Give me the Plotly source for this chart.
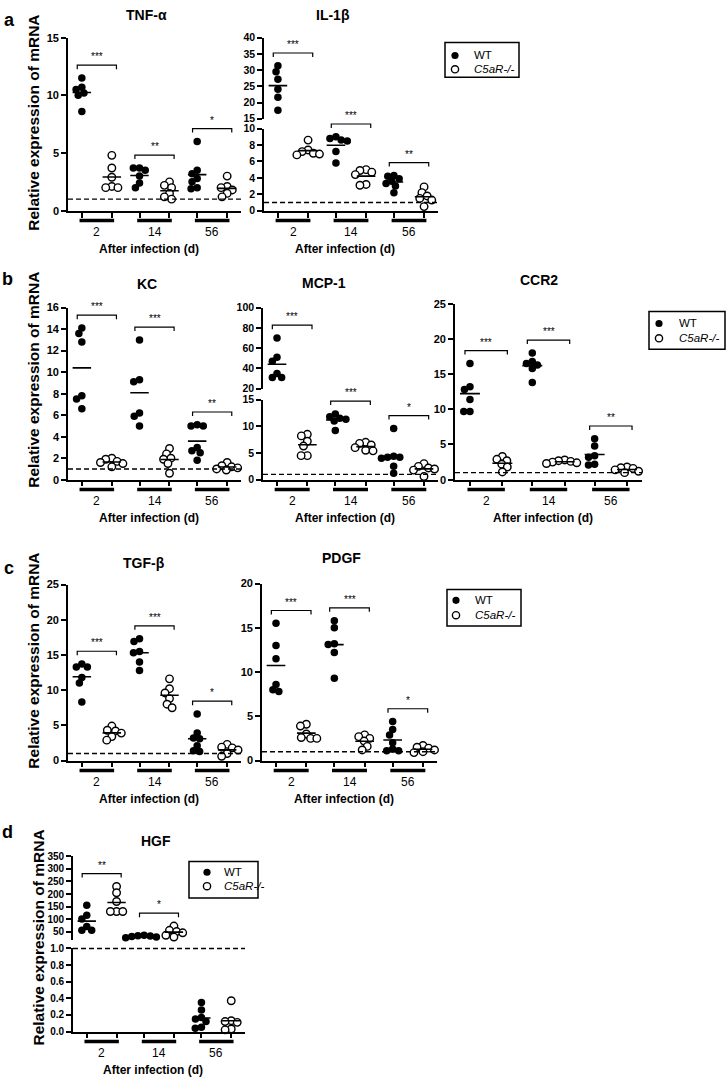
import math
import plotly.graph_objects as go

W, H = 726, 1083
FONT = "Liberation Sans, Arial, Helvetica, sans-serif"

# ---------------- data ----------------
days = ["2", "14", "56"]
genotypes = ["WT", "C5aR-/-"]

tnf_wt = [[11.5, 10.7, 10.5, 10.2, 10.0, 8.6], [3.7, 3.7, 3.5, 3.0, 2.4, 2.0], [6.0, 3.5, 3.2, 2.8, 2.5, 2.0, 1.9]]
tnf_ko = [[4.8, 3.7, 2.9, 2.1, 2.0, 2.0], [2.5, 2.2, 2.0, 1.5, 1.2, 1.0], [3.0, 2.1, 2.0, 1.8, 1.5, 1.2]]
tnf_sig = ["***", "**", "*"]

il1b_wt = [[31.3, 29.5, 27.2, 24.1, 21.6, 17.6], [9.0, 8.8, 8.6, 8.5, 7.2, 5.8], [4.3, 4.2, 3.9, 3.6, 3.3, 3.0, 2.2]]
il1b_ko = [[8.6, 7.4, 7.2, 7.0, 6.9, 6.8], [5.0, 4.9, 4.7, 4.4, 3.2, 3.1], [2.9, 2.2, 1.8, 1.5, 1.3, 0.5]]
il1b_sig = ["***", "***", "**"]

kc_wt = [[14.1, 13.6, 12.8, 7.8, 7.5, 6.6], [13.0, 9.3, 9.1, 6.2, 5.9, 5.0], [5.1, 5.0, 5.0, 3.0, 2.7, 2.5, 1.8]]
kc_ko = [[2.0, 1.9, 1.7, 1.6, 1.5, 1.2], [2.9, 2.4, 2.0, 1.9, 1.5, 0.6], [1.6, 1.3, 1.2, 1.1, 1.0, 0.9]]
kc_sig = ["***", "***", "**"]

mcp1_wt = [[70, 51, 47, 35, 31, 31], [12.3, 11.8, 11.5, 11.3, 11.0, 9.2], [9.6, 4.4, 4.2, 4.2, 4.0, 2.5, 1.2]]
mcp1_ko = [[8.5, 8.2, 7.2, 6.3, 4.5, 4.5], [7.0, 6.8, 6.5, 6.0, 5.5, 5.4], [3.0, 2.5, 2.2, 2.0, 1.8, 0.6]]
mcp1_sig = ["***", "***", "*"]

ccr2_wt = [[16.5, 13.2, 12.8, 11.4, 9.7, 9.7], [18.0, 16.8, 16.5, 16.3, 15.8, 13.8], [5.8, 4.8, 3.4, 3.2, 2.2, 2.1]]
ccr2_ko = [[3.3, 2.9, 2.7, 2.2, 1.8, 1.1], [2.8, 2.7, 2.6, 2.5, 2.4, 2.3], [1.8, 1.7, 1.6, 1.4, 1.2, 1.0]]
ccr2_sig = ["***", "***", "**"]

tgfb_wt = [[13.7, 13.3, 13.3, 11.8, 11.0, 8.3], [17.3, 16.9, 15.5, 15.3, 14.0, 12.8], [6.6, 3.9, 3.2, 3.1, 2.1, 1.4, 1.3]]
tgfb_ko = [[4.9, 4.3, 4.2, 3.9, 3.4, 2.9], [11.6, 10.2, 9.6, 8.8, 8.0, 7.5], [2.3, 1.9, 1.8, 1.5, 1.0, 0.6]]
tgfb_sig = ["***", "***", "*"]

pdgf_wt = [[15.5, 13.0, 11.5, 8.6, 8.0, 7.8], [15.8, 15.0, 13.2, 13.1, 12.2, 9.3], [4.4, 3.5, 2.9, 2.0, 1.3, 1.1, 1.1]]
pdgf_ko = [[4.1, 3.9, 3.0, 2.6, 2.5, 2.5], [2.9, 2.7, 2.5, 2.2, 1.6, 1.2], [1.7, 1.5, 1.4, 1.2, 1.0, 0.9]]
pdgf_sig = ["***", "***", "*"]

hgf_wt = [[155, 115, 100, 70, 55, 55], [35, 33, 32, 30, 28, 25], [0.35, 0.26, 0.17, 0.15, 0.12, 0.05, 0.04]]
hgf_ko = [[230, 205, 170, 130, 130, 130], [72, 55, 50, 45, 35, 28], [0.37, 0.13, 0.12, 0.11, 0.03, 0.02]]
hgf_sig = ["**", "*", ""]

charts = [
    dict(name="TNF-α", wt=tnf_wt, ko=tnf_ko, sig=tnf_sig, panel=0),
    dict(name="IL-1β", wt=il1b_wt, ko=il1b_ko, sig=il1b_sig, panel=0),
    dict(name="KC", wt=kc_wt, ko=kc_ko, sig=kc_sig, panel=1),
    dict(name="MCP-1", wt=mcp1_wt, ko=mcp1_ko, sig=mcp1_sig, panel=1),
    dict(name="CCR2", wt=ccr2_wt, ko=ccr2_ko, sig=ccr2_sig, panel=1),
    dict(name="TGF-β", wt=tgfb_wt, ko=tgfb_ko, sig=tgfb_sig, panel=2),
    dict(name="PDGF", wt=pdgf_wt, ko=pdgf_ko, sig=pdgf_sig, panel=2),
    dict(name="HGF", wt=hgf_wt, ko=hgf_ko, sig=hgf_sig, panel=3),
]

# ---------------- layout (pixels) ----------------
def seg(top, bot, r, ticks, fs=11, fmt=None):
    return dict(top=top, bot=bot, r=r, ticks=ticks, fs=fs, fmt=fmt)

specs = {
    "TNF-α": dict(xpx=(68, 241), title=(146, 9),
                  segs=[seg(32, 207, (0, 15), [0, 5, 10, 15])]),
    "IL-1β": dict(xpx=(264, 438), title=(333, 9),
                  segs=[seg(32, 114, (15, 40), [15, 20, 25, 30, 35, 40], 10.5),
                        seg(124, 207, (0, 10), [0, 2, 4, 6, 8, 10], 10.5)]),
    "KC": dict(xpx=(68, 241), title=(147, 281),
               segs=[seg(305, 479, (0, 16), [0, 2, 4, 6, 8, 10, 12, 14, 16])]),
    "MCP-1": dict(xpx=(263, 438), title=(324, 280),
                  segs=[seg(305, 387, (20, 100), [20, 40, 60, 80, 100], 10.5),
                        seg(398, 479, (0, 15), [0, 5, 10, 15], 10.5)]),
    "CCR2": dict(xpx=(455, 642), title=(539, 277),
                 segs=[seg(301, 479, (0, 25), [0, 5, 10, 15, 20, 25])]),
    "TGF-β": dict(xpx=(68, 241), title=(144, 563),
                  segs=[seg(585, 763, (0, 25), [0, 5, 10, 15, 20, 25])]),
    "PDGF": dict(xpx=(262, 437), title=(341, 558),
                 segs=[seg(584, 763, (0, 20), [0, 5, 10, 15, 20])]),
    "HGF": dict(xpx=(73, 245), title=(156, 844),
                segs=[seg(860, 944, (18, 350), [50, 100, 150, 200, 250, 300, 350], 10),
                      seg(953, 1037, (0, 1), [0, 0.2, 0.4, 0.6, 0.8, 1.0], 10, ".1f")]),
}

panel_letters = [("a", 9, 14), ("b", 7, 276), ("c", 9, 568), ("d", 7, 835)]
ytitle_pos = [(34, 118), (34, 378), (34, 662), (39, 942)]
# legend boxes: (x0, y0, x1, y1, symbol x, text x, row1 y, row2 y)
legend_boxes = [
    (445, 37, 519, 72, 455, 472, 50, 64),
    (649, 309, 725, 347, 659, 677, 321, 336),
    (447, 590, 521, 627, 456, 473, 601, 616),
    (189, 865, 258, 902, 207, 222, 876, 890),
]

WT_OFF, KO_OFF = -0.26, 0.26
MEAN_HALF = 0.16
BR_HALF = 0.34
DOT = 7.5
SWARM_D = 6.2


def px2x(px):
    return px / W


def px2y(py):
    return 1 - py / H


def val_py(s, v):
    r0, r1 = s["r"]
    return s["bot"] - (v - r0) / (r1 - r0) * (s["bot"] - s["top"])


def seg_of(spec, v):
    for s in spec["segs"]:
        if s["r"][0] <= v <= s["r"][1]:
            return s
    return spec["segs"][-1]


def swarm(vals, spec, D):
    order = sorted(range(len(vals)), key=lambda i: -vals[i])
    placed = []
    offs = [0.0] * len(vals)
    for i in order:
        y = val_py(seg_of(spec, vals[i]), vals[i])
        ivs = []
        for (px_, py_) in placed:
            dy = abs(py_ - y)
            if dy < D:
                w = math.sqrt(D * D - dy * dy)
                ivs.append((px_ - w, px_ + w))
        cands = [0.0] + [a for a, b in ivs] + [b for a, b in ivs]
        cands.sort(key=lambda c: (abs(c), c))
        for c in cands:
            if all(not (a + 1e-6 < c < b - 1e-6) for a, b in ivs):
                offs[i] = c
                placed.append((c, y))
                break
    return offs


fig = go.Figure()
layout = {}
annotations = []
shapes = []
ax_n = 0

wt_marker = dict(symbol="circle", size=DOT, color="black", line=dict(width=0))
ko_marker = dict(symbol="circle", size=DOT, color="white", line=dict(width=1.4, color="black"))

for ch in charts:
    spec = specs[ch["name"]]
    x0, x1 = spec["xpx"]
    xpu = (x1 - x0) / 3.0
    nseg = len(spec["segs"])
    for si, s in enumerate(spec["segs"]):
        ax_n += 1
        s["xa"] = "x" if ax_n == 1 else f"x{ax_n}"
        s["ya"] = "y" if ax_n == 1 else f"y{ax_n}"
        xkey = "xaxis" if ax_n == 1 else f"xaxis{ax_n}"
        ykey = "yaxis" if ax_n == 1 else f"yaxis{ax_n}"
        is_bottom = si == nseg - 1
        layout[xkey] = dict(
            domain=[px2x(x0), px2x(x1)], range=[-0.5, 2.5], anchor=s["ya"],
            visible=is_bottom, showline=True, linecolor="black", linewidth=1.6,
            ticks="outside", ticklen=5, tickwidth=1.5, tickcolor="black",
            tickvals=[d + o for d in range(len(days)) for o in (WT_OFF, KO_OFF)],
            showticklabels=False, showgrid=False, zeroline=False, fixedrange=True)
        yax = dict(
            domain=[px2y(s["bot"]), px2y(s["top"])], range=list(s["r"]), anchor=s["xa"],
            showline=True, linecolor="black", linewidth=1.6,
            ticks="outside", ticklen=5, tickwidth=1.5, tickcolor="black",
            tickvals=s["ticks"], showgrid=False, zeroline=False, fixedrange=True,
            tickfont=dict(family=FONT, size=s["fs"], color="black", weight="bold"))
        if s["fmt"]:
            yax["tickformat"] = s["fmt"]
        layout[ykey] = yax
        s["pts"] = {"wt": ([], []), "ko": ([], [])}
        s["means"] = ([], [])

    # points & means
    for d in range(len(days)):
        for key, off in (("wt", WT_OFF), ("ko", KO_OFF)):
            vals = ch[key][d]
            pos = d + off
            offs = swarm(vals, spec, SWARM_D)
            for v, o in zip(vals, offs):
                s = seg_of(spec, v)
                s["pts"][key][0].append(pos + o / xpu)
                s["pts"][key][1].append(v)
            m = sum(vals) / len(vals)
            s = seg_of(spec, m)
            s["means"][0].extend([pos - MEAN_HALF, pos + MEAN_HALF, None])
            s["means"][1].extend([m, m, None])

    for s in spec["segs"]:
        for key, mk in (("wt", wt_marker), ("ko", ko_marker)):
            xs, ys = s["pts"][key]
            if xs:
                fig.add_trace(go.Scatter(x=xs, y=ys, mode="markers", marker=mk,
                                         name=genotypes[0] if key == "wt" else genotypes[1],
                                         xaxis=s["xa"], yaxis=s["ya"], showlegend=False,
                                         cliponaxis=False, hoverinfo="skip"))
        if s["means"][0]:
            fig.add_trace(go.Scatter(x=s["means"][0], y=s["means"][1], mode="lines",
                                     line=dict(color="black", width=1.6),
                                     xaxis=s["xa"], yaxis=s["ya"], showlegend=False,
                                     hoverinfo="skip"))

    bot = spec["segs"][-1]
    # dashed reference line at 1
    yref1 = px2y(val_py(bot, 1))
    shapes.append(dict(type="line", xref=f"{bot['xa']} domain", x0=0, x1=1,
                       yref="paper", y0=yref1, y1=yref1,
                       line=dict(color="black", width=1.4, dash="5px,3px")))

    # significance brackets
    for d in range(len(days)):
        if not ch["sig"][d]:
            continue
        mx = max(ch["wt"][d] + ch["ko"][d])
        s = seg_of(spec, mx)
        bpy = val_py(s, mx) - 13
        xl, xr = d - BR_HALF, d + BR_HALF
        yb, yl = px2y(bpy), px2y(bpy + 4)
        shapes.append(dict(type="path", xref=s["xa"], yref="paper",
                           path=f"M {xl},{yl} L {xl},{yb} L {xr},{yb} L {xr},{yl}",
                           line=dict(color="black", width=1.2)))
        annotations.append(dict(x=d, xref=s["xa"], y=px2y(bpy - 1), yref="paper",
                                text=ch["sig"][d], showarrow=False, xanchor="center",
                                yanchor="bottom",
                                font=dict(family=FONT, size=10, color="black")))

    # group bars and day labels
    axis_py = bot["bot"]
    for d, lab in enumerate(days):
        shapes.append(dict(type="line", xref=bot["xa"], yref="paper",
                           x0=d - 0.30, x1=d + 0.30, y0=px2y(axis_py + 10), y1=px2y(axis_py + 10),
                           line=dict(color="black", width=3.5)))
        annotations.append(dict(x=d, xref=bot["xa"], y=px2y(axis_py + 22), yref="paper",
                                text=lab, showarrow=False, xanchor="center", yanchor="middle",
                                font=dict(family=FONT, size=12, color="black")))
    annotations.append(dict(x=px2x((x0 + x1) / 2 - 6), xref="paper", y=px2y(axis_py + 39),
                            yref="paper", text="<b>After infection (d)</b>", showarrow=False,
                            xanchor="center", yanchor="middle",
                            font=dict(family=FONT, size=12, color="black")))
    # chart title
    tx, ty = spec["title"]
    annotations.append(dict(x=px2x(tx), y=px2y(ty), xref="paper", yref="paper",
                            text=f"<b>{ch['name']}</b>", showarrow=False,
                            xanchor="center", yanchor="middle",
                            font=dict(family=FONT, size=14, color="black")))

for (lt, lx, ly) in panel_letters:
    annotations.append(dict(x=px2x(lx), y=px2y(ly), xref="paper", yref="paper",
                            text=f"<b>{lt}</b>", showarrow=False, xanchor="center",
                            yanchor="middle", font=dict(family=FONT, size=18, color="black")))
for (yx, yy) in ytitle_pos:
    annotations.append(dict(x=px2x(yx), y=px2y(yy), xref="paper", yref="paper",
                            text="<b>Relative expression of mRNA</b>", showarrow=False,
                            textangle=-90, xanchor="center", yanchor="middle",
                            font=dict(family=FONT, size=15.5, color="black")))

# legends (one box per panel)
R = 3.6
for (bx0, by0, bx1, by1, sx, tx, r1, r2) in legend_boxes:
    shapes.append(dict(type="rect", xref="paper", yref="paper",
                       x0=px2x(bx0), x1=px2x(bx1), y0=px2y(by1), y1=px2y(by0),
                       line=dict(color="black", width=1.5), fillcolor="white", layer="above"))
    for ry, mk in ((r1, wt_marker), (r2, ko_marker)):
        filled = mk["color"] == "black"
        shapes.append(dict(type="circle", xref="paper", yref="paper",
                           x0=px2x(sx - R), x1=px2x(sx + R), y0=px2y(ry + R), y1=px2y(ry - R),
                           fillcolor="black" if filled else "white",
                           line=dict(color="black", width=0 if filled else 1.4), layer="above"))
    annotations.append(dict(x=px2x(tx), y=px2y(r1), xref="paper", yref="paper",
                            text=genotypes[0], showarrow=False, xanchor="left", yanchor="middle",
                            font=dict(family=FONT, size=11.5, color="black")))
    annotations.append(dict(x=px2x(tx), y=px2y(r2), xref="paper", yref="paper",
                            text=f"<i>{genotypes[1]}</i>", showarrow=False, xanchor="left",
                            yanchor="middle", font=dict(family=FONT, size=11.5, color="black")))

fig.update_layout(
    width=W, height=H, margin=dict(l=0, r=0, t=0, b=0),
    paper_bgcolor="white", plot_bgcolor="white",
    font=dict(family=FONT, color="black"),
    annotations=annotations, shapes=shapes, showlegend=False,
    **layout)

fig.write_html("out.html", config={"displayModeBar": False},
               post_script="document.body.style.margin='0';document.body.style.overflow='hidden';")
